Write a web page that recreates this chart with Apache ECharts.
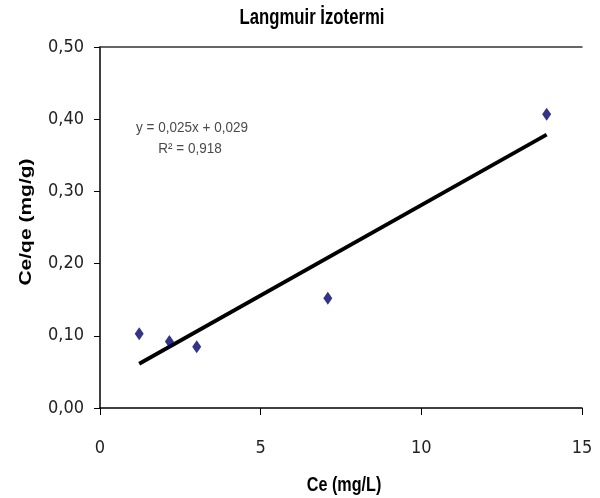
<!DOCTYPE html>
<html>
<head>
<meta charset="utf-8">
<script src="https://cdn.jsdelivr.net/npm/echarts@6/dist/echarts.min.js"></script>
<style>
  html, body { margin: 0; padding: 0; background: #fff; }
  #chart { width: 600px; height: 498px; }
</style>
</head>
<body>
<div id="chart"></div>
<script>
  // Ce (mg/L) ve Ce/qe (mg/g) noktalari
  var ceValues = [1.22, 2.16, 3.01, 7.09, 13.9]
  var ceQeValues = [0.103, 0.092, 0.085, 0.152, 0.407]
  var xTicks = [0, 5, 10, 15]
  var yTicks = [0, 0.1, 0.2, 0.3, 0.4, 0.5]
  var eqLines = ['y = 0,025x + 0,029', 'R² = 0,918']

  var narrow = "'Liberation Sans Narrow', 'Arial Narrow', 'DejaVu Sans Condensed', sans-serif"
  var sans = "'Liberation Sans', Arial, sans-serif"

  // dogrusal regresyon (trend cizgisi)
  function fitLine (xs, ys) {
    var n = xs.length, mx = 0, my = 0
    for (var i = 0; i < n; i++) { mx += xs[i]; my += ys[i] }
    mx /= n; my /= n
    var sxy = 0, sxx = 0
    for (var j = 0; j < n; j++) {
      sxy += (xs[j] - mx) * (ys[j] - my)
      sxx += (xs[j] - mx) * (xs[j] - mx)
    }
    var slope = sxy / sxx
    return {slope: slope, intercept: my - slope * mx}
  }

  var fit = fitLine(ceValues, ceQeValues)
  var xMin = Math.min.apply(null, ceValues)
  var xMax = Math.max.apply(null, ceValues)
  var trend = [
    [xMin, fit.slope * xMin + fit.intercept],
    [xMax, fit.slope * xMax + fit.intercept]
  ]

  var points = ceValues.map(function (x, i) { return [x, ceQeValues[i]] })

  // yazilar resimde yatayda sikistirilmis, scale ile taklit ediliyor
  function label (text, x, y, font, color, opts) {
    opts = opts || {}
    return {
      type: 'text',
      x: x,
      y: y,
      rotation: opts.rotation || 0,
      scaleX: opts.scaleX || 1,
      scaleY: opts.scaleY || 1,
      silent: true,
      style: {
        text: text,
        x: 0,
        y: 0,
        align: 'center',
        verticalAlign: 'middle',
        font: font,
        fill: color
      }
    }
  }

  var chart = echarts.init(document.getElementById('chart'), null, {renderer: 'canvas'})
  chart.setOption({
    animation: false,
    backgroundColor: '#fff',
    grid: {left: 100, right: 18, top: 47, bottom: 90},
    xAxis: [{
      type: 'value',
      min: xTicks[0],
      max: xTicks[xTicks.length - 1],
      interval: 5,
      axisLine: {show: true, lineStyle: {color: '#000', width: 1.5}},
      axisTick: {show: true, inside: false, length: 7, lineStyle: {color: '#000'}},
      axisLabel: {margin: 31, fontFamily: narrow, fontSize: 18, color: '#222'},
      splitLine: {show: false}
    }, {
      type: 'value',
      position: 'top',
      min: xTicks[0],
      max: xTicks[xTicks.length - 1],
      axisLine: {show: true, lineStyle: {color: '#333', width: 1.5}},
      axisTick: {show: false},
      axisLabel: {show: false},
      splitLine: {show: false}
    }],
    yAxis: {
      type: 'value',
      min: yTicks[0],
      max: yTicks[yTicks.length - 1],
      interval: 0.1,
      axisLine: {show: true, lineStyle: {color: '#000', width: 1.5}},
      axisTick: {show: true, inside: false, length: 6, lineStyle: {color: '#000'}},
      axisLabel: {
        margin: 16,
        fontFamily: narrow,
        fontSize: 18,
        color: '#222',
        formatter: function (v) { return v.toFixed(2).replace('.', ',') }
      },
      splitLine: {show: false}
    },
    graphic: [
      label('Langmuir İzotermi', 312, 18, 'bold 22px ' + sans, '#000', {scaleX: 0.76}),
      label('Ce (mg/L)', 344, 485, 'bold 21px ' + sans, '#000', {scaleX: 0.77}),
      label('Ce/qe (mg/g)', 27, 222, 'bold 21px ' + sans, '#000', {rotation: Math.PI / 2, scaleY: 0.77}),
      label(eqLines[0], 192, 128, '15px ' + sans, '#4a4a4a', {scaleX: 0.9}),
      label(eqLines[1], 190, 149, '15px ' + sans, '#4a4a4a', {scaleX: 0.9})
    ],
    series: [{
      name: 'trend',
      type: 'line',
      data: trend,
      symbol: 'none',
      lineStyle: {color: '#000', width: 3.8},
      z: 2
    }, {
      name: 'veri',
      type: 'scatter',
      data: points,
      symbol: 'diamond',
      symbolSize: [9, 13],
      itemStyle: {color: '#00006a'},
      z: 3
    }]
  })
</script>
</body>
</html>
